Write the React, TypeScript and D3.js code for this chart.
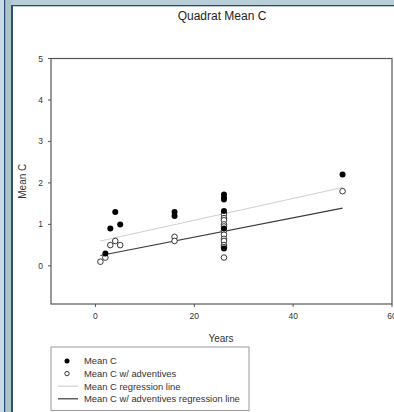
import React from 'react';
import * as d3 from 'd3';

// picture size
const width = 394;
const height = 412;

// Mean C (filled dots)
const meanCYears = [2, 3, 4, 5, 16, 16, 26, 26, 26, 26, 26, 26, 50];
const meanCValues = [0.3, 0.9, 1.3, 1.0, 1.3, 1.2, 1.72, 1.65, 1.6, 1.32, 0.9, 0.42, 2.2];

// Mean C w/ adventives (open dots)
const advYears = [1, 2, 3, 4, 5, 16, 16, 26, 26, 26, 26, 26, 26, 26, 26, 26, 26, 26, 26, 50];
const advValues = [0.1, 0.2, 0.5, 0.6, 0.5, 0.7, 0.6, 1.25, 1.15, 1.1, 1.0, 0.95, 0.85, 0.75, 0.65, 0.6, 0.5, 0.45, 0.2, 1.8];

// regression lines, end points [year, value]
const regMeanC = [[1, 0.6], [50, 1.89]];
const regAdv = [[1, 0.25], [50, 1.39]];

const xTicks = [0, 20, 40, 60];
const yTicks = [0, 1, 2, 3, 4, 5];

const legendItems = ['Mean C', 'Mean C w/ adventives', 'Mean C regression line', 'Mean C w/ adventives regression line'];

const font = 'Liberation Sans, Arial, sans-serif';
const axisColor = '#555';

export default function App() {
  const x = d3.scaleLinear().domain([-9, 60]).range([51, 392]);
  const y = d3.scaleLinear().domain([-0.92, 5]).range([304, 58.5]);
  const line = d3.line<number[]>().x((d) => x(d[0])).y((d) => y(d[1]));

  return (
    <svg width={width} height={height} style={{ position: 'absolute', left: 0, top: 0 }} fontFamily={font}>
      {/* window frame */}
      <rect x={0} y={0} width={width} height={height} fill="#b8ced6" />
      <rect x={0} y={0} width={4} height={height} fill="#c9dbe6" />
      <rect x={4} y={0} width={1.5} height={height} fill="#2d4d78" />
      <rect x={5.5} y={0} width={6} height={height} fill="#abc5c6" />
      <rect x={11} y={5} width={width} height={1.5} fill="#2d4d78" />
      <rect x={11} y={5} width={2} height={height} fill="#2d4d78" />
      <rect x={13} y={6.5} width={width} height={height} fill="#fff" />

      <text x={222} y={20} fontSize={12} textAnchor="middle" fill="#222">Quadrat Mean C</text>

      {/* plot box */}
      <rect x={x(-9)} y={y(5)} width={x(60) - x(-9)} height={y(-0.92) - y(5)} fill="none" stroke={axisColor} strokeWidth={1.2} />

      {yTicks.map((t) => (
        <g key={'y' + t}>
          <line x1={x(-9) - 3} x2={x(-9)} y1={y(t)} y2={y(t)} stroke={axisColor} />
          <text x={x(-9) - 8} y={y(t) + 3} fontSize={8.5} textAnchor="end" fill="#333">{t}</text>
        </g>
      ))}
      {xTicks.map((t) => (
        <g key={'x' + t}>
          <line x1={x(t)} x2={x(t)} y1={y(-0.92)} y2={y(-0.92) + 3} stroke={axisColor} />
          <text x={x(t)} y={y(-0.92) + 15} fontSize={8.5} textAnchor="middle" fill="#333">{t}</text>
        </g>
      ))}

      <text x={221} y={342} fontSize={10} textAnchor="middle" fill="#333">Years</text>
      <text transform={`translate(26, ${(y(5) + y(-0.92)) / 2}) rotate(-90)`} fontSize={10} textAnchor="middle" fill="#333">Mean C</text>

      {/* regression lines */}
      <path d={line(regMeanC) || ''} fill="none" stroke="#cfcfcf" strokeWidth={1.2} />
      <path d={line(regAdv) || ''} fill="none" stroke="#3a3a3a" strokeWidth={1.2} />

      {advValues.map((v, i) => (
        <circle key={'a' + i} cx={x(advYears[i])} cy={y(v)} r={2.8} fill="#fff" stroke="#222" strokeWidth={0.9} />
      ))}
      {meanCValues.map((v, i) => (
        <circle key={'m' + i} cx={x(meanCYears[i])} cy={y(v)} r={3} fill="#000" />
      ))}

      {/* legend */}
      <rect x={51} y={347} width={198} height={63.5} fill="#fff" stroke="#999" strokeWidth={1} />
      {legendItems.map((label, i) => {
        const ly = 361 + i * 12.6;
        return (
          <g key={label}>
            {i === 0 && <circle cx={67} cy={ly} r={2.5} fill="#000" />}
            {i === 1 && <circle cx={67} cy={ly} r={2.2} fill="#fff" stroke="#222" strokeWidth={0.9} />}
            {i === 2 && <line x1={58} x2={78} y1={ly} y2={ly} stroke="#cfcfcf" strokeWidth={1.2} />}
            {i === 3 && <line x1={58} x2={78} y1={ly} y2={ly} stroke="#3a3a3a" strokeWidth={1.2} />}
            <text x={84} y={ly + 3.3} fontSize={9.4} fill="#333">{label}</text>
          </g>
        );
      })}
    </svg>
  );
}
